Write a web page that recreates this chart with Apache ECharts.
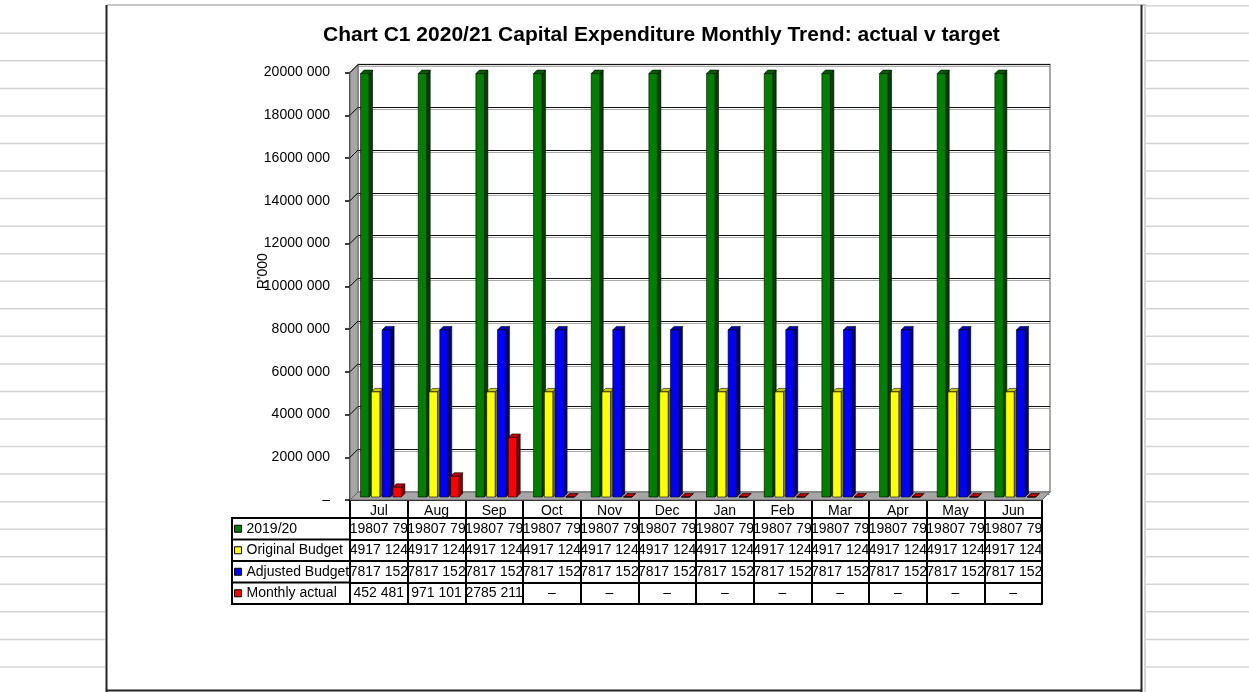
<!DOCTYPE html>
<html><head><meta charset="utf-8">
<script src="https://cdn.jsdelivr.net/npm/echarts@6/dist/echarts.min.js"></script>
<style>html,body{margin:0;padding:0;background:#fff}#c{width:1249px;height:692px}</style>
</head><body><div id="c"></div>
<script>
// ---- data ----
const categories = ['Jul','Aug','Sep','Oct','Nov','Dec','Jan','Feb','Mar','Apr','May','Jun'];
const seriesNames = ['2019/20','Original Budget','Adjusted Budget','Monthly actual'];
const prior2019 = [19807790,19807790,19807790,19807790,19807790,19807790,19807790,19807790,19807790,19807790,19807790,19807790];
const originalBudget = [4917124,4917124,4917124,4917124,4917124,4917124,4917124,4917124,4917124,4917124,4917124,4917124];
const adjustedBudget = [7817152,7817152,7817152,7817152,7817152,7817152,7817152,7817152,7817152,7817152,7817152,7817152];
const monthlyActual = [452481,971101,2785211,0,0,0,0,0,0,0,0,0];
const yMin = 0, yMax = 20000000, yStep = 2000000;

// ---- styling ----
const FONT = '"Liberation Sans", Arial, sans-serif';
const W = 1249, H = 692;
const GL = 350, GR = 1042, GT = 72.5, GB = 500;
const DX = 8, DY = -8;            // wall depth
const BDX = 3.5, BDY = -3.5;      // bar depth
const BAR_SHIFT_Y = -3;
const HEADER_H = 18, ROW_H = 21.5;
const faceColors = [
  {front:'#008000', side:'#004000', top:'#006000'},
  {front:'#ffff00', side:'#808000', top:'#c8c800'},
  {front:'#0000ff', side:'#000080', top:'#0000c0'},
  {front:'#ff0000', side:'#800000', top:'#c00000'}
];
const allValues = [prior2019, originalBudget, adjustedBudget, monthlyActual];

function fmt(v){
  if (!v) return '–';
  const t = Math.floor(v/1000), r = v % 1000;
  return t + ' ' + String(r).padStart(3,'0');
}

const chart = echarts.init(document.getElementById('c'));

// background spreadsheet lines & chart frame
const bg = [];
const rowStep = 27.55;
for (let k = 1; k <= 24; k++) {
  const y = 5.75 + rowStep*k;
  bg.push({type:'line', z:-10, shape:{x1:0,y1:y,x2:105,y2:y}, style:{stroke:'#d4d4d4', lineWidth:1.5}});
}
for (let k = 0; k <= 24; k++) {
  const y = 5.75 + rowStep*k;
  bg.push({type:'line', z:-10, shape:{x1:1146,y1:y,x2:W,y2:y}, style:{stroke:'#d4d4d4', lineWidth:1.5}});
}
bg.push({type:'line', z:-9, shape:{x1:107,y1:5,x2:1146,y2:5}, style:{stroke:'#c8c8c8', lineWidth:2}});
bg.push({type:'line', z:-9, shape:{x1:106.5,y1:5,x2:106.5,y2:H}, style:{stroke:'#222', lineWidth:2}});
bg.push({type:'line', z:-9, shape:{x1:1141.5,y1:5,x2:1141.5,y2:H}, style:{stroke:'#222', lineWidth:2}});
bg.push({type:'line', z:-9, shape:{x1:1145,y1:5,x2:1145,y2:H}, style:{stroke:'#c8c8c8', lineWidth:1.5}});
bg.push({type:'line', z:-9, shape:{x1:106,y1:690.5,x2:1142,y2:690.5}, style:{stroke:'#222', lineWidth:2}});
// legend column frame of the data table
const TL = 232;
for (let k = 0; k <= 4; k++) {
  const y = GB + HEADER_H + k*ROW_H;
  bg.push({type:'line', z:10, shape:{x1:TL,y1:y,x2:GL,y2:y}, style:{stroke:'#000', lineWidth:2}});
}
bg.push({type:'line', z:10, shape:{x1:TL,y1:GB+HEADER_H-1,x2:TL,y2:GB+HEADER_H+4*ROW_H+1}, style:{stroke:'#000', lineWidth:2}});

const xAxes = [{
  type:'category', data:categories, gridIndex:0, position:'bottom',
  axisLine:{show:true, onZero:false, lineStyle:{color:'#000', width:1}},
  axisTick:{show:true, length:HEADER_H, interval:0, lineStyle:{color:'#000', width:2}},
  axisLabel:{interval:0, margin:4, color:'#000', fontSize:14, fontFamily:FONT},
  splitLine:{show:false}
}];
allValues.forEach((arr, k) => {
  xAxes.push({
    type:'category', data:categories, gridIndex:0, position:'bottom',
    offset: HEADER_H + k*ROW_H,
    axisLine:{show:true, onZero:false, lineStyle:{color:'#000', width:2}},
    axisTick:{show:true, length:ROW_H, interval:0, lineStyle:{color:'#000', width:2}},
    axisLabel:{interval:0, margin:4, color:'#000', fontSize:14, fontFamily:FONT,
      width:60, overflow:'truncate', ellipsis:'',
      formatter:(val, idx) => fmt(arr[idx])},
    splitLine:{show:false}
  });
});
xAxes.push({
  type:'category', data:categories, gridIndex:0, position:'bottom',
  offset: HEADER_H + 4*ROW_H,
  axisLine:{show:true, onZero:false, lineStyle:{color:'#000', width:2}},
  axisTick:{show:false}, axisLabel:{show:false}, splitLine:{show:false}
});
xAxes.push({type:'category', data:categories, gridIndex:1, show:false});

const barSeries = allValues.map((arr, i) => ({
  type:'custom', name:seriesNames[i], xAxisIndex:0, yAxisIndex:0, z:5,
  itemStyle:{color:faceColors[i].front},
  data: arr.map((v, j) => [j, v]),
  encode:{x:0, y:1},
  renderItem:(params, api) => {
    const c = api.coord([api.value(0), 0]);
    const t = api.coord([api.value(0), api.value(1)]);
    const band = api.size([1, 0])[0];
    const xl = c[0] - band/2 + band*(0.183 + i*0.187);
    const w = band*0.147;
    const yb = c[1] + BAR_SHIFT_Y, yt = t[1] + BAR_SHIFT_Y;
    const fc = faceColors[i];
    const st = {stroke:'#000', lineWidth:0.6};
    return {type:'group', children:[
      {type:'polygon', shape:{points:[[xl+w,yb],[xl+w,yt],[xl+w+BDX,yt+BDY],[xl+w+BDX,yb+BDY]]}, style:Object.assign({fill:fc.side}, st)},
      {type:'polygon', shape:{points:[[xl,yt],[xl+w,yt],[xl+w+BDX,yt+BDY],[xl+BDX,yt+BDY]]}, style:Object.assign({fill:fc.top}, st)},
      {type:'rect', shape:{x:xl, y:yt, width:w, height:yb-yt}, style:Object.assign({fill:fc.front}, st)}
    ]};
  }
}));

const wallSeries = {
  type:'custom', name:'walls', xAxisIndex:0, yAxisIndex:0, z:3, silent:true,
  data:[[0, 0]], encode:{x:0, y:1},
  renderItem:(params, api) => {
    const cs = params.coordSys;
    const x0 = cs.x, x1 = cs.x + cs.width;
    const yB = api.coord([0, yMin])[1], yT = api.coord([0, yMax])[1];
    const kids = [
      {type:'polygon', shape:{points:[[x0,yB],[x0,yT],[x0+DX,yT+DY],[x0+DX,yB+DY]]}, style:{fill:'#a6a6a6', stroke:'#666', lineWidth:1}},
      {type:'polygon', shape:{points:[[x0,yB],[x0+DX,yB+DY],[x1+DX,yB+DY],[x1,yB]]}, style:{fill:'#a6a6a6', stroke:'#666', lineWidth:1}}
    ];
    for (let v = yMin + yStep; v <= yMax; v += yStep) {
      const y = api.coord([0, v])[1];
      kids.push({type:'line', shape:{x1:x0, y1:y, x2:x0+DX, y2:y+DY}, style:{stroke:'#000', lineWidth:1}});
    }
    return {type:'group', children:kids};
  }
};

chart.setOption({
  animation:false,
  backgroundColor:'#fff',
  title:{
    text:'Chart C1 2020/21 Capital Expenditure Monthly Trend: actual v target',
    left:318, top:20,
    textStyle:{fontFamily:FONT, fontWeight:'bold', fontSize:21, color:'#000'}
  },
  legend:{
    orient:'vertical', left:TL+2, top:GB+HEADER_H+(ROW_H-14)/2,
    padding:0,
    itemGap:ROW_H-14, itemWidth:7, itemHeight:7, icon:'rect',
    itemStyle:{borderColor:'#000', borderWidth:1},
    textStyle:{fontFamily:FONT, fontSize:14, color:'#000', lineHeight:14},
    data:seriesNames
  },
  graphic:{elements:bg},
  grid:[
    {left:GL, right:W-GR, top:GT, bottom:H-GB},
    {left:GL+DX, right:W-GR-DX, top:GT+DY, bottom:H-GB-DY, show:true, borderColor:'#8a8a8a', borderWidth:1.5, backgroundColor:'#fff'}
  ],
  xAxis:xAxes,
  yAxis:[{
    type:'value', gridIndex:0, min:yMin, max:yMax, interval:yStep,
    name:"R'000", nameLocation:'middle', nameRotate:90, nameGap:80, nameMoveOverlap:false,
    nameTextStyle:{fontFamily:FONT, fontSize:14, color:'#000', padding:[0,0,0,30]},
    axisLine:{show:true, lineStyle:{color:'#000', width:1.5}},
    axisTick:{show:true, length:5, lineStyle:{color:'#000', width:1.5}},
    axisLabel:{margin:20, color:'#000', fontSize:14, fontFamily:FONT, formatter:fmt},
    splitLine:{show:false}
  },{
    type:'value', gridIndex:1, min:yMin, max:yMax, interval:yStep,
    axisLine:{show:false}, axisTick:{show:false}, axisLabel:{show:false},
    splitLine:{show:true, lineStyle:{color:'#111', width:1.2, shadowColor:'#aaa', shadowOffsetY:2, shadowBlur:0}}
  }],
  series:[wallSeries].concat(barSeries)
});
</script></body></html>
